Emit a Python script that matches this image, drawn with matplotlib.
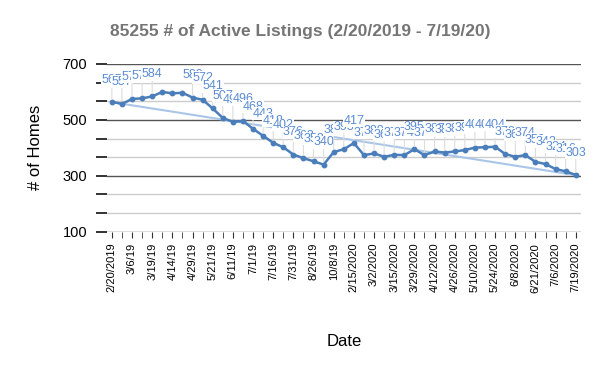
import matplotlib
matplotlib.use("Agg")
from matplotlib import pyplot as plt
import numpy as np

plt.rcParams['font.family'] = ['Liberation Sans', 'DejaVu Sans']

# every other date is shown on the axis
date_labels = ['2/20/2019', '3/6/19', '3/19/19', '4/14/19', '4/29/19', '5/21/19',
               '6/11/19', '7/1/19', '7/16/19', '7/31/19', '8/26/19', '10/8/19',
               '2/15/2020', '3/2/2020', '3/15/2020', '3/29/2020', '4/12/2020',
               '4/26/2020', '5/10/2020', '5/24/2020', '6/8/2020', '6/21/2020',
               '7/6/2020', '7/19/2020']

listings = [565, 557, 575, 577, 584, 600, 595, 597, 580, 572, 541, 507, 493, 496,
            468, 443, 418, 402, 376, 363, 352, 340, 385, 395, 417, 374, 380, 368,
            375, 374, 395, 374, 387, 383, 387, 392, 401, 402, 404, 378, 368, 374,
            350, 342, 324, 316, 303]

y_major = [100, 300, 500, 700]

# points whose labels are not drawn in the original
hidden_labels = [5, 6, 7]

line_color = '#4a7ebb'
label_color = '#5b8cd3'

x = np.arange(len(listings))
y = np.array(listings)

fig = plt.figure(figsize=(6, 3.71), dpi=100)
ax = fig.add_axes([0.178, 0.3755, 0.79, 0.452])

# trendline
slope, intercept = np.polyfit(x, y, 1)
ax.plot(x, slope * x + intercept, color='#a9c5e8', lw=1.5, zorder=2)

ax.plot(x, y, color=line_color, lw=1.8, marker='o', ms=3.2, zorder=3)

for i in range(len(listings)):
    if i in hidden_labels:
        continue
    ax.annotate(str(listings[i]), (x[i], y[i]), xytext=(0, 16), textcoords='offset points',
                ha='center', va='center', fontsize=9, color=label_color, zorder=5,
                bbox=dict(fc='white', ec='none', pad=0.3),
                arrowprops=dict(arrowstyle='-', color='#dddddd', lw=0.8,
                                shrinkA=0, shrinkB=2))

ax.set_xlim(-0.5, len(listings) - 0.5)
ax.set_ylim(100, 700)
ax.set_yticks(y_major)
ax.set_yticks(np.linspace(100, 700, 10), minor=True)
ax.grid(axis='y', which='major', color='#555555', lw=1)
ax.grid(axis='y', which='minor', color='#cccccc', lw=1)
ax.set_axisbelow(True)

ax.set_xticks(x[::2])
ax.set_xticklabels(date_labels, rotation=90, fontsize=8)
ax.set_xticks(x, minor=True)
ax.tick_params(axis='x', which='both', length=4, color='#333333', pad=4)
ax.tick_params(axis='y', which='both', length=8, width=1.2, color='#111111', labelsize=10.5, pad=6)

for s in ax.spines.values():
    s.set_visible(False)

ax.set_xlabel('Date', fontsize=12, labelpad=30)
ax.set_ylabel('# of Homes', fontsize=12, labelpad=14)
fig.text(0.5, 0.915, '85255 # of Active Listings (2/20/2019 - 7/19/20)', ha='center',
         va='center', fontsize=12.5, fontweight='bold', color='#757575')

fig.savefig('out.png', dpi=100, facecolor='white')
